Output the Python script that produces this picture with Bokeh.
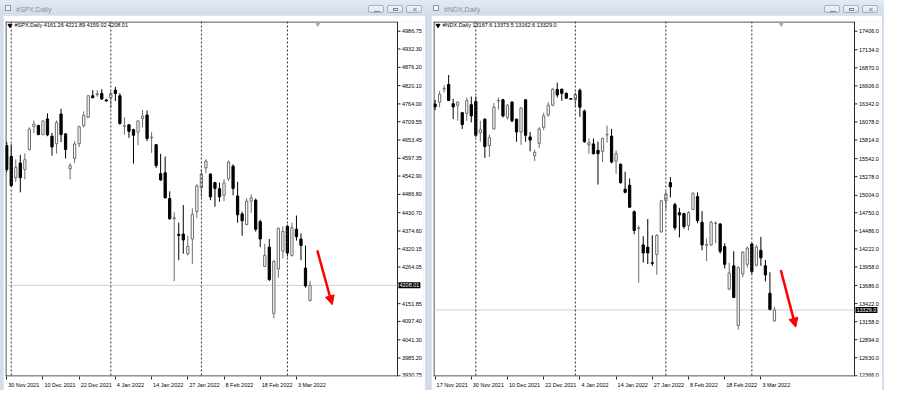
from bokeh.plotting import figure
from bokeh.models import (Range1d, FixedTicker, Span, Label, Arrow, NormalHead, Div,
                          ColumnDataSource, Spacer)
from bokeh.core.properties import value
from bokeh.layouts import row, column
from bokeh.embed import file_html
from bokeh.resources import INLINE

# ---------------- #SPX,Daily (30 Nov 2021 .. 8 Mar 2022) ----------------
spx_open = [4636, 4603, 4538, 4583, 4563, 4624, 4694, 4698, 4670, 4718,
            4665, 4642, 4733, 4672, 4565, 4597, 4642, 4697, 4723, 4789,
            4792, 4796, 4776, 4783, 4806, 4789, 4695, 4700, 4685, 4677,
            4719, 4730, 4660, 4639, 4550, 4553, 4474, 4412, 4364, 4365,
            4305, 4350, 4434, 4507, 4568, 4549, 4523, 4504, 4484, 4535,
            4573, 4482, 4427, 4394, 4466, 4469, 4403, 4266, 4325, 4122,
            4258, 4313, 4389, 4300, 4380, 4350, 4261, 4161.26]
spx_high = [4647, 4640, 4594, 4608, 4612, 4692, 4713, 4700, 4713, 4735,
            4675, 4713, 4749, 4675, 4583, 4650, 4697, 4741, 4791, 4806,
            4806, 4809, 4779, 4801, 4816, 4797, 4723, 4702, 4688, 4712,
            4746, 4744, 4677, 4640, 4611, 4603, 4496, 4432, 4400, 4454,
            4360, 4444, 4518, 4564, 4594, 4551, 4525, 4523, 4533, 4591,
            4579, 4525, 4434, 4475, 4487, 4474, 4409, 4335, 4350, 4285,
            4385, 4389, 4394, 4400, 4422, 4367, 4330, 4221.89]
spx_low = [4555, 4510, 4525, 4493, 4533, 4622, 4674, 4668, 4668, 4665,
           4605, 4612, 4647, 4597, 4533, 4583, 4632, 4692, 4721, 4781,
           4786, 4776, 4771, 4751, 4773, 4700, 4670, 4660, 4581, 4637,
           4692, 4650, 4614, 4568, 4528, 4475, 4409, 4221, 4285, 4305,
           4300, 4274, 4414, 4478, 4552, 4469, 4449, 4464, 4466, 4528,
           4484, 4400, 4360, 4392, 4430, 4373, 4325, 4266, 4221, 4107,
           4231, 4290, 4296, 4296, 4345, 4285, 4201, 4159.02]
spx_close = [4563, 4514, 4570, 4538, 4593, 4687, 4702, 4670, 4712, 4669,
             4632, 4707, 4670, 4624, 4575, 4641, 4694, 4729, 4789, 4783,
             4795, 4779, 4773, 4796, 4796, 4704, 4697, 4680, 4668, 4712,
             4726, 4658, 4662, 4575, 4531, 4476, 4412, 4415, 4361, 4347,
             4327, 4426, 4513, 4549, 4588, 4479, 4505, 4479, 4522, 4586,
             4505, 4424, 4406, 4466, 4476, 4380, 4350, 4300, 4226, 4281,
             4383, 4373, 4307, 4385, 4357, 4330, 4206, 4208.01]
spx_price_ticks = [4986.75, 4932.30, 4876.20, 4820.10, 4764.00, 4709.55, 4653.45,
                   4597.35, 4542.90, 4486.80, 4430.70, 4374.60, 4320.15, 4264.05,
                   4151.85, 4097.40, 4041.30, 3985.20, 3930.75]
spx_date_idx = [0, 8, 16, 24, 32, 40, 48, 56, 64]
spx_date_labels = ["30 Nov 2021", "10 Dec 2021", "22 Dec 2021", "4 Jan 2022", "14 Jan 2022",
                   "27 Jan 2022", "8 Feb 2022", "18 Feb 2022", "3 Mar 2022"]
spx_month_starts = [1, 23, 43, 62]

# ---------------- #NDX,Daily (17 Nov 2021 .. 8 Mar 2022) ----------------
ndx_open = [16340, 16365, 16560, 16628, 16345, 16322, 16214, 16204, 16331, 16379,
            15921, 16119, 15733, 15977, 16385, 16402, 16143, 16369, 16119, 15931,
            16402, 15860, 15587, 15765, 16001, 16181, 16323, 16553, 16557, 16497,
            16420, 16402, 16543, 16238, 15743, 15757, 15662, 15648, 15890, 15870,
            15506, 15460, 15096, 15153, 14767, 14520, 14280, 14247, 14020, 14139,
            14470, 14926, 15191, 14870, 14752, 14738, 14563, 14799, 14987, 14611,
            14276, 14280, 14593, 14587, 14257, 13635, 13974, 13102, 13856, 13997,
            14294, 13983, 14201, 13974, 13573, 13167.6]
ndx_high = [16400, 16529, 16614, 16765, 16416, 16379, 16225, 16436, 16450, 16450,
            16096, 16133, 15892, 16355, 16436, 16416, 16341, 16379, 16125, 16294,
            16410, 15931, 15672, 16001, 16214, 16369, 16577, 16652, 16567, 16511,
            16425, 16511, 16567, 16260, 15836, 15836, 15789, 15850, 16026, 15977,
            15662, 15470, 15351, 15252, 14785, 14563, 14407, 14658, 14422, 14436,
            14941, 15058, 15270, 14898, 14823, 14752, 14775, 15049, 15049, 14775,
            14375, 14634, 14625, 14597, 14304, 14021, 14187, 13965, 14187, 14257,
            14304, 14280, 14399, 14059, 13880, 13373.5]
ndx_low = [16250, 16294, 16511, 16390, 16119, 16096, 15977, 16096, 16072, 15860,
           15789, 15553, 15567, 15970, 16260, 16143, 16115, 16072, 15789, 15743,
           15789, 15648, 15506, 15695, 15959, 16157, 16308, 16436, 16388, 16416,
           16405, 16294, 16153, 15775, 15615, 15601, 15163, 15492, 15775, 15474,
           15318, 15177, 15035, 14823, 14436, 13728, 14021, 14000, 13974, 13842,
           14460, 14799, 14973, 14492, 14389, 14516, 14492, 14790, 14597, 14201,
           14045, 14270, 14304, 14153, 13936, 13621, 13502, 13041, 13809, 13950,
           13856, 13965, 13974, 13748, 13324, 13162.6]
ndx_close = [16300, 16482, 16570, 16393, 16298, 16369, 16040, 16393, 16167, 15884,
             15963, 15719, 15850, 16294, 16393, 16167, 16322, 16096, 15931, 16284,
             15884, 15813, 15634, 15977, 16167, 16323, 16557, 16473, 16497, 16426,
             16412, 16482, 16294, 15789, 15775, 15615, 15615, 15836, 15898, 15492,
             15615, 15191, 15049, 14832, 14492, 14530, 14163, 14163, 14012, 14421,
             14926, 15021, 15129, 14530, 14719, 14549, 14752, 15035, 14634, 14280,
             14284, 14611, 14601, 14187, 13997, 13870, 13512, 13950, 14173, 14233,
             13890, 14248, 14092, 13842, 13338, 13329.0]
ndx_price_ticks = [17406.0, 17134.0, 16870.0, 16606.0, 16342.0, 16078.0, 15814.0,
                   15542.0, 15278.0, 15004.0, 14750.0, 14486.0, 14222.0, 13958.0,
                   13686.0, 13422.0, 13158.0, 12894.0, 12630.0, 12366.0]
ndx_date_idx = [0, 8, 16, 24, 32, 40, 48, 56, 64, 72]
ndx_date_labels = ["17 Nov 2021", "30 Nov 2021", "10 Dec 2021", "22 Dec 2021", "4 Jan 2022",
                   "14 Jan 2022", "27 Jan 2022", "8 Feb 2022", "18 Feb 2022", "3 Mar 2022"]
ndx_month_starts = [9, 31, 51, 70]

FONT = "Liberation Sans"
FS = "5.5px"
CHROME = "#D3DDE9"
FRAME = "#262626"

# Arial-like advance widths (em) used to left-align date labels like MT4 does
CW = {" ": .278, ".": .278, ",": .278, "N": .722, "o": .556, "v": .5, "D": .722, "e": .556,
      "c": .5, "J": .5, "a": .556, "n": .556, "F": .611, "b": .556, "M": .833, "r": .333}


def text_w(s, size=5.5):
    return sum(CW.get(ch, .556) for ch in s) * size


def fmt_v(v, fmt):
    return f"{v:.2f}" if fmt == "0.00" else f"{v:.1f}"


def title_bar(name, width):
    btn = ("position:absolute;top:5px;width:16px;height:8px;border:1px solid #A3B2C6;"
           "border-radius:2px;background:linear-gradient(#F3F6FA,#DCE4EE);")
    html = f"""<div style="position:relative;width:{width}px;height:15px;overflow:hidden;
font-family:'Liberation Sans',sans-serif;font-size:7px;color:#8393A9;
background:linear-gradient(#E3EAF3,#D3DDE9);">
<span style="position:absolute;left:5px;top:5px;width:6px;height:6px;border:1px solid #7E9CC0;background:#EEF4FA;"></span>
<span style="position:absolute;left:16px;top:5px;line-height:9px;">{name}</span>
<span style="{btn}right:44px;"><span style="position:absolute;left:5px;top:5px;width:6px;height:1px;background:#7A8799;"></span></span>
<span style="{btn}right:25px;"><span style="position:absolute;left:5px;top:2px;width:5px;height:3px;border:1px solid #7A8799;"></span></span>
<span style="{btn}right:6px;"><span style="position:absolute;left:5px;top:-1px;font-size:7px;color:#7A8799;">&#x2715;</span></span>
</div>"""
    return Div(text=html, width=width, height=15, margin=0)


def make_chart(name, o, h, l, c, price_ticks, fmt, date_idx, date_labels, seps,
               x0, bar_px, chart_w, y_range, width, height, arrow, shift_x):
    n = len(o)
    up = [cc >= oo for oo, cc in zip(o, c)]
    src = ColumnDataSource(dict(
        x=list(range(n)), high=h, low=l,
        top=[max(a, b) for a, b in zip(o, c)],
        bottom=[min(a, b) for a, b in zip(o, c)],
        fill=["white" if u else "black" for u in up],
        line=["#6C6C6C" if u else "black" for u in up]))

    mb_l, mb_r, mb_t, mb_b = 2, 2, 6, 11
    frame_w = width - mb_l - mb_r
    frame_h = height - mb_t - mb_b
    pxx = bar_px                          # pixels per bar
    xc = x0 + chart_w / pxx               # right edge of the chart (price scale line)
    x1 = x0 + frame_w / pxx               # the frame also holds the price scale
    y0, y1 = y_range
    pxy = (y1 - y0) / frame_h             # price per pixel

    p = figure(width=width, height=height, x_range=Range1d(x0, x1), y_range=Range1d(y0, y1),
               y_axis_location=None, toolbar_location=None, output_backend="svg", tools="",
               min_border_left=mb_l, min_border_right=mb_r, min_border_top=mb_t,
               min_border_bottom=mb_b, background_fill_color="white",
               border_fill_color="white", outline_line_color=None, margin=0)
    p.grid.visible = False

    # chart border: top, bottom, left, right
    hx, hy = 0.5 / pxx, 0.5 * pxy
    p.segment(x0=[x0, x0, x0 + hx, xc], y0=[y1 - hy, y0 + hy, y0, y0],
              x1=[xc, xc, x0 + hx, xc], y1=[y1 - hy, y0 + hy, y1, y1],
              line_color=FRAME, line_width=1)

    # month separators
    for s in seps:
        p.add_layout(Span(location=s, dimension="height", line_color="#303030",
                          line_width=1, line_dash="2 2"))
    # current price line
    last = c[-1]
    p.segment(x0=[x0], y0=[last], x1=[xc], y1=[last], line_color="#CFCFCF", line_width=1)

    # candles
    p.segment(x0="x", y0="low", x1="x", y1="high", source=src, line_color="line", line_width=1)
    p.vbar(x="x", top="top", bottom="bottom", width=0.5, source=src,
           fill_color="fill", line_color="line", line_width=1)

    # price scale at the chart's right edge
    k = len(price_ticks)
    p.segment(x0=[xc] * k, y0=price_ticks, x1=[xc + 3 / pxx] * k, y1=price_ticks,
              line_color=FRAME, line_width=1)
    inner = [v for v in price_ticks if (v - y0) / pxy > 4]
    edge = [v for v in price_ticks if (v - y0) / pxy <= 4]
    p.text(x=[xc + 4.5 / pxx] * len(inner), y=inner, text=[fmt_v(v, fmt) for v in inner],
           text_font=value(FONT), text_font_size=FS, text_color="black",
           text_align="left", text_baseline="middle")
    if edge:
        p.text(x=[xc + 4.5 / pxx] * len(edge), y=[y0] * len(edge),
               text=[fmt_v(v, fmt) for v in edge], text_font=value(FONT), text_font_size=FS,
               text_color="black", text_align="left", text_baseline="bottom")

    # current price tag on the price scale
    p.add_layout(Label(x=xc, y=last, x_offset=1, text=fmt_v(last, fmt), text_font=FONT,
                       text_font_size=FS, text_color="white", text_baseline="middle",
                       text_align="left", background_fill_color="black", padding=1))

    # date scale: labels start at the bar, as in MT4
    centers = [i + (text_w(t) / 2 + 1.5) / pxx for i, t in zip(date_idx, date_labels)]
    xa = p.xaxis[0]
    xa.ticker = FixedTicker(ticks=centers, minor_ticks=[float(i) for i in date_idx])
    xa.major_label_overrides = {cx: t for cx, t in zip(centers, date_labels)}
    xa.major_tick_out = 0
    xa.major_tick_in = 0
    xa.minor_tick_out = 3
    xa.minor_tick_in = 0
    xa.minor_tick_line_color = FRAME
    xa.axis_line_color = None
    xa.major_label_standoff = 2
    xa.major_label_text_font = FONT
    xa.major_label_text_font_size = FS
    xa.major_label_text_color = "black"

    # header line inside the chart
    p.scatter(x=[x0 + 4.5 / pxx], y=[y1 - 4.0 * pxy], marker="inverted_triangle", size=4,
              fill_color="black", line_color="black")
    hdr = f"{name}  " + " ".join(fmt_v(v, fmt) for v in (o[-1], h[-1], l[-1], c[-1]))
    p.add_layout(Label(x=x0 + 9 / pxx, y=y1 - 4.0 * pxy, text=hdr, text_font=FONT,
                       text_font_size=FS, text_color="black", text_baseline="middle"))

    # chart shift marker
    p.scatter(x=[shift_x], y=[y1 - 2.0 * pxy], marker="inverted_triangle", size=5,
              fill_color="#A8A8A8", line_color="#A8A8A8")

    # red arrow
    (ax0, ay0), (ax1, ay1) = arrow
    p.add_layout(Arrow(x_start=ax0, y_start=ay0, x_end=ax1, y_end=ay1,
                       line_color="#FF0000", line_width=2.5,
                       end=NormalHead(size=9, fill_color="#FF0000", line_color="#FF0000")))
    return p


FH = 375
p1 = make_chart("#SPX,Daily", spx_open, spx_high, spx_low, spx_close, spx_price_ticks, "0.00",
                spx_date_idx, spx_date_labels, spx_month_starts,
                -0.27, 4.527, 392, (3928.7, 5016.5), 422, FH,
                ((68.6, 4315.0), (71.9, 4148.6)), 68.7)
p2 = make_chart("#NDX,Daily", ndx_open, ndx_high, ndx_low, ndx_close, ndx_price_ticks, "0.0",
                ndx_date_idx, ndx_date_labels, ndx_month_starts,
                -0.35, 4.525, 421, (12356.0, 17547.5), 451, FH,
                ((76.4, 13912.0), (79.7, 13078.0)), 76.5)

left = column(title_bar("#SPX,Daily", 428),
              row(Spacer(width=3, height=FH), p1, Spacer(width=3, height=FH), spacing=0),
              spacing=0)
right = column(title_bar("#NDX,Daily", 456),
               row(Spacer(width=3, height=FH), p2, Spacer(width=2, height=FH), spacing=0),
               spacing=0)
layout = row(left, right, spacing=0, styles={"background-color": CHROME})

open("out.html", "w").write(file_html(layout, INLINE))
